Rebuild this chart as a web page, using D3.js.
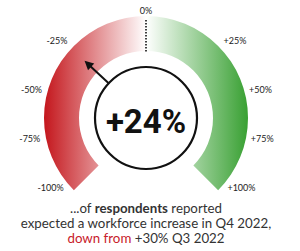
<!DOCTYPE html>
<html>
<head>
<meta charset="utf-8">
<script src="https://cdn.jsdelivr.net/npm/d3@7"></script>
<style>
  body { margin: 0; background: #fff; }
  svg { display: block; }
  text { font-family: "Lato", "Open Sans", sans-serif; }
</style>
</head>
<body>
<svg></svg>
<script>
// gauge ticks (percent change)
const ticks = [-100, -75, -50, -25, 0, 25, 50, 75, 100];
const tickLabels = ["-100%", "-75%", "-50%", "-25%", "0%", "+25%", "+50%", "+75%", "+100%"];
// angle (degrees from the top) where each tick label sits
const tickAngles = [-126, -100, -76, -49, 0, 49, 76, 100, 126];
const headline = "+24%";
const needleValue = -24; // where the arrow points on the dial
const captionLines = [
  [{ t: "...of ", b: false }, { t: "respondents", b: true }, { t: " reported", b: false }],
  [{ t: "expected a workforce increase in Q4 2022,", b: false }],
  [{ t: "down from", b: false, red: true }, { t: " +30% Q3 2022", b: false }]
];

const w = 300, h = 251;
const cx = 146, cy = 118;
const rOuter = 102, rInner = 67, rCircle = 51;

const svg = d3.select("svg").attr("width", w).attr("height", h);

// value -> angle on the dial
const angle = d3.scaleLinear().domain(ticks).range(tickAngles);
// value -> sweep of the coloured band
const sweep = d3.scaleLinear().domain([-100, 100]).range([-135, 135]);
const rad = d => d * Math.PI / 180;

// horizontal red -> white -> green gradient (coordinates relative to the dial centre)
const defs = svg.append("defs");
const grad = defs.append("linearGradient")
  .attr("id", "band")
  .attr("gradientUnits", "userSpaceOnUse")
  .attr("x1", -rOuter).attr("x2", rOuter)
  .attr("y1", 0).attr("y2", 0);
grad.append("stop").attr("offset", 0).attr("stop-color", "#c4161c");
grad.append("stop").attr("offset", 0.5).attr("stop-color", "#ffffff");
grad.append("stop").attr("offset", 1).attr("stop-color", "#38a032");

const g = svg.append("g").attr("transform", `translate(${cx},${cy})`);

g.append("path")
  .attr("d", d3.arc()
    .innerRadius(rInner)
    .outerRadius(rOuter)
    .startAngle(rad(sweep(-100)))
    .endAngle(rad(sweep(100)))())
  .attr("fill", "url(#band)");

// dotted zero line
g.append("line")
  .attr("x1", 0).attr("x2", 0)
  .attr("y1", -rOuter + 4).attr("y2", -rInner + 1)
  .attr("stroke", "#111")
  .attr("stroke-width", 1.6)
  .attr("stroke-dasharray", "1.5,1.5");

// tick labels
g.selectAll("text.tick")
  .data(ticks)
  .enter()
  .append("text")
  .attr("class", "tick")
  .attr("x", d => Math.sin(rad(angle(d))) * (d === 0 ? 108 : 118))
  .attr("y", d => -Math.cos(rad(angle(d))) * (d === 0 ? 108 : 118))
  .attr("text-anchor", "middle")
  .attr("dominant-baseline", "central")
  .attr("font-size", 9)
  .attr("fill", "#222")
  .text((d, i) => tickLabels[i]);

// arrow
const a = rad(angle(needleValue));
const ux = Math.sin(a), uy = -Math.cos(a);
const tipR = 84, headLen = 9, headW = 4.5;
g.append("line")
  .attr("x1", ux * rCircle).attr("y1", uy * rCircle)
  .attr("x2", ux * (tipR - headLen + 1)).attr("y2", uy * (tipR - headLen + 1))
  .attr("stroke", "#111")
  .attr("stroke-width", 2);
const bx = ux * (tipR - headLen), by = uy * (tipR - headLen);
g.append("path")
  .attr("d", d3.line()([
    [ux * tipR, uy * tipR],
    [bx - uy * headW, by + ux * headW],
    [bx + uy * headW, by - ux * headW]
  ]) + "Z")
  .attr("fill", "#111");

// centre circle
g.append("circle")
  .attr("r", rCircle)
  .attr("fill", "#fff")
  .attr("stroke", "#111")
  .attr("stroke-width", 2.2);

g.append("text")
  .attr("x", 0).attr("y", 3)
  .attr("text-anchor", "middle")
  .attr("dominant-baseline", "central")
  .attr("font-size", 33)
  .attr("font-weight", 700)
  .style("font-family", "Roboto, sans-serif")
  .attr("fill", "#111")
  .text(headline);

// caption
const cap = svg.append("text")
  .attr("text-anchor", "middle")
  .attr("font-size", 13.3)
  .attr("fill", "#333");
captionLines.forEach((line, i) => {
  const row = cap.append("tspan")
    .attr("x", cx)
    .attr("y", 213 + i * 15);
  line.forEach(part => {
    row.append("tspan")
      .attr("font-weight", part.b ? 700 : 400)
      .attr("fill", part.red ? "#c8202a" : null)
      .text(part.t);
  });
});
</script>
</body>
</html>
